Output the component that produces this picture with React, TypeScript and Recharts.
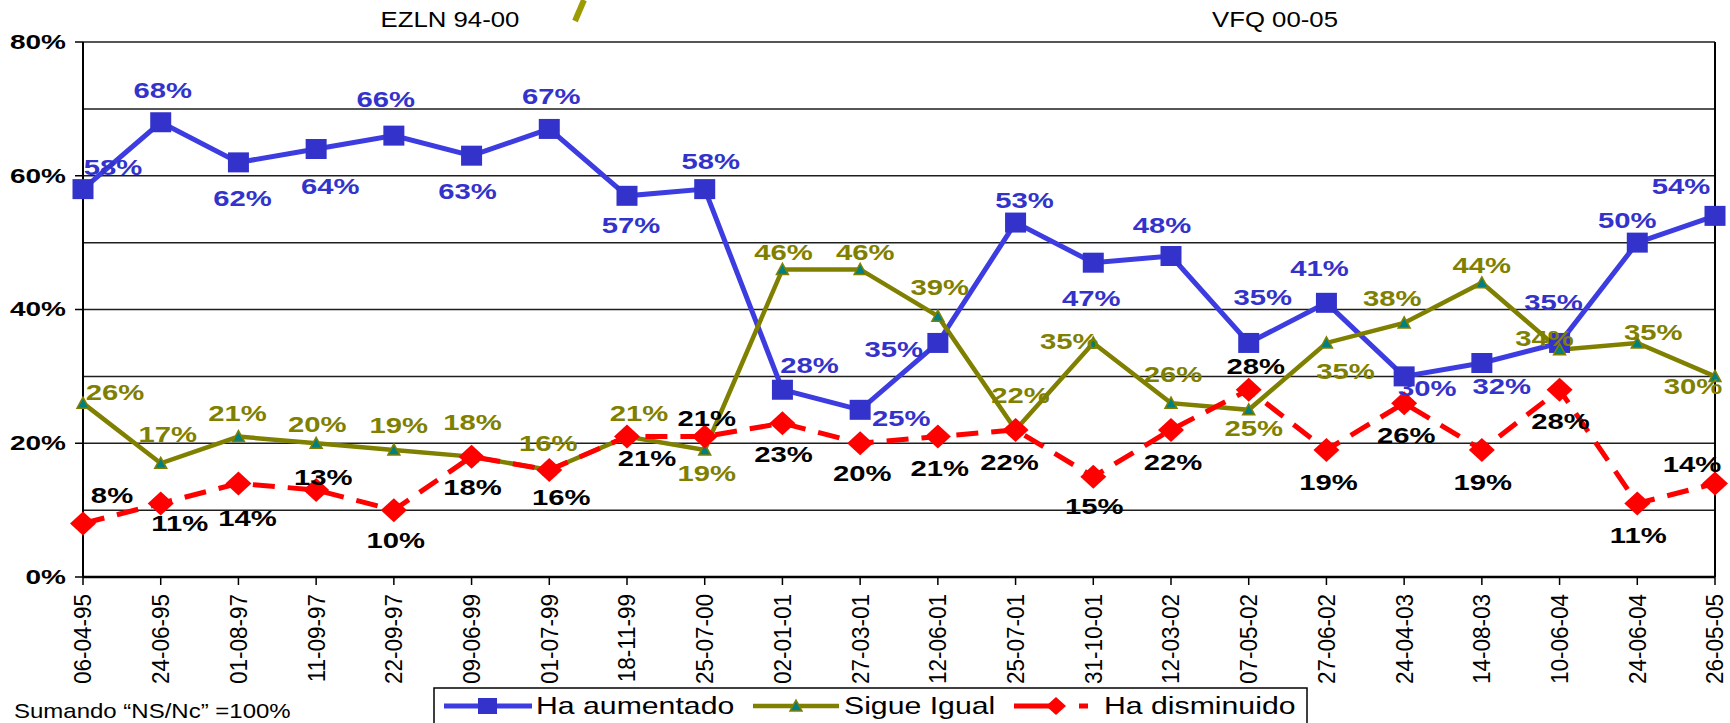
import React from 'react';
import {
  LineChart,
  Line,
  XAxis,
  YAxis,
  CartesianGrid,
  ReferenceLine,
  LabelList
} from 'recharts';

// survey dates
const DATES = [
  '06-04-95', '24-06-95', '01-08-97', '11-09-97', '22-09-97', '09-06-99', '01-07-99',
  '18-11-99', '25-07-00', '02-01-01', '27-03-01', '12-06-01', '25-07-01', '31-10-01',
  '12-03-02', '07-05-02', '27-06-02', '24-04-03', '14-08-03', '10-06-04', '24-06-04', '26-05-05'
];

// % per answer
const AUMENTADO = [58, 68, 62, 64, 66, 63, 67, 57, 58, 28, 25, 35, 53, 47, 48, 35, 41, 30, 32, 35, 50, 54];
const IGUAL = [26, 17, 21, 20, 19, 18, 16, 21, 19, 46, 46, 39, 22, 35, 26, 25, 35, 38, 44, 34, 35, 30];
const DISMINUIDO = [8, 11, 14, 13, 10, 18, 16, 21, 21, 23, 20, 21, 22, 15, 22, 28, 19, 26, 19, 28, 11, 14];

const Y_TICKS = [0, 10, 20, 30, 40, 50, 60, 70, 80];

// label placement (dx, dy from the point), as in the original sheet
const BLUE_OFF = [
  [30, -22], [2, -32], [4, 36], [14, 37], [-8, -36], [-4, 36], [2, -33], [4, 30], [6, -28],
  [27, -24], [41, 9], [-44, 6], [9, -22], [-2, 36], [-9, -31], [14, -46], [-7, -34],
  [23, 12], [20, 23], [-6, -41], [-10, -22], [-34, -30]
];
const OLIVE_OFF = [
  [32, -11], [7, -29], [-1, -23], [1, -19], [5, -25], [1, -34], [-1, -27], [12, -23], [2, 23],
  [1, -17], [5, -17], [2, -29], [5, -35], [-24, -2], [2, -29], [5, 19], [19, 28],
  [-12, -25], [0, -17], [-15, -11], [16, -11], [-22, 10]
];
const RED_OFF = [
  [29, -28], [19, 20], [9, 35], [7, -13], [2, 30], [1, 31], [12, 27], [20, 22], [2, -18],
  [1, 31], [2, 30], [2, 32], [-6, 32], [1, 30], [2, 32], [7, -23], [2, 32],
  [2, 32], [1, 32], [1, 32], [1, 32], [-23, -19]
];

const data = DATES.map((d, i) => ({
  date: d,
  aumentado: AUMENTADO[i],
  igual: IGUAL[i],
  disminuido: DISMINUIDO[i]
}));

const FONT = '"Liberation Sans", Arial, Helvetica, sans-serif';
const BLUE = '#3333cc';
const BLUE_LINE = '#3c3ce0';
const OLIVE = '#808000';
const TEAL = '#008080';
const RED = '#ff0000';

const StretchText = ({ x, y, sx = 1, children, ...rest }: any) => (
  <text transform={`translate(${x},${y}) scale(${sx},1)`} fontFamily={FONT} {...rest}>
    {children}
  </text>
);

const makeLabel = (offsets: number[][], color: string) => (props: any) => {
  const { index, value } = props;
  const px = props.viewBox?.x ?? props.x;
  const py = props.viewBox?.y ?? props.y;
  const [dx, dy] = offsets[index] || [0, -28];
  return (
    <StretchText
      key={`lbl-${index}`}
      x={px + dx}
      y={py + dy}
      sx={1.33}
      textAnchor="middle"
      dominantBaseline="central"
      fontSize={22}
      fontWeight="bold"
      fill={color}
    >
      {value}%
    </StretchText>
  );
};

const SquareDot = (props: any) => {
  const { cx, cy, index } = props;
  return <rect key={`sq-${index}`} x={cx - 10.5} y={cy - 10} width={21} height={20} fill={BLUE} />;
};

const TriangleDot = (props: any) => {
  const { cx, cy, index } = props;
  return (
    <polygon
      key={`tr-${index}`}
      points={`${cx},${cy - 6} ${cx - 6},${cy + 5} ${cx + 6},${cy + 5}`}
      fill={TEAL}
      stroke={OLIVE}
      strokeWidth={1.5}
    />
  );
};

const DiamondDot = (props: any) => {
  const { cx, cy, index } = props;
  return (
    <polygon
      key={`dm-${index}`}
      points={`${cx},${cy - 12} ${cx + 13},${cy} ${cx},${cy + 12} ${cx - 13},${cy}`}
      fill={RED}
    />
  );
};

const YTick = ({ x, y, payload }: any) => {
  if (payload.value % 20 !== 0) return <g />;
  return (
    <g>
      <line x1={x} x2={x + 8} y1={y} y2={y} stroke="#000" strokeWidth={1.5} />
      <StretchText
        x={x - 9}
        y={y}
        sx={1.4}
        textAnchor="end"
        dominantBaseline="central"
        fontSize={20}
        fontWeight="bold"
        fill="#000"
      >
        {payload.value}%
      </StretchText>
    </g>
  );
};

const XTick = ({ x, y, payload }: any) => (
  <text
    transform={`translate(${x},${y}) scale(1.1,1) rotate(-90)`}
    textAnchor="end"
    dominantBaseline="central"
    fontFamily={FONT}
    fontSize={22.5}
    fill="#000"
  >
    {payload.value}
  </text>
);

const Overlay = () => (
  <svg
    width={1730}
    height={723}
    style={{ position: 'absolute', left: 0, top: 0, pointerEvents: 'none' }}
  >
    {/* bit of the slide title that pokes into the picture */}
    <line x1={584} y1={0} x2={575} y2={21} stroke="#9c9c00" strokeWidth={6} />
    <StretchText x={450} y={27} sx={1.12} textAnchor="middle" fontSize={23} fill="#000">
      EZLN 94-00
    </StretchText>
    <StretchText x={1275} y={27} sx={1.12} textAnchor="middle" fontSize={23} fill="#000">
      VFQ 00-05
    </StretchText>
    <StretchText x={14} y={718} sx={1.2} fontSize={20} fill="#000">
      Sumando “NS/Nc” =100%
    </StretchText>

    <rect x={434} y={688} width={873} height={40} fill="#fff" stroke="#000" strokeWidth={1.5} />
    <line x1={444} x2={532} y1={706} y2={706} stroke={BLUE_LINE} strokeWidth={5} />
    <rect x={478} y={698} width={19} height={16} fill={BLUE} />
    <StretchText x={536} y={706} sx={1.26} dominantBaseline="central" fontSize={24} fill="#000">
      Ha aumentado
    </StretchText>
    <line x1={753} x2={839} y1={706} y2={706} stroke={OLIVE} strokeWidth={4.5} />
    <polygon points="796,700 790,711 802,711" fill={TEAL} stroke={OLIVE} strokeWidth={1.5} />
    <StretchText x={844} y={706} sx={1.26} dominantBaseline="central" fontSize={24} fill="#000">
      Sigue Igual
    </StretchText>
    <line x1={1014} x2={1050} y1={706} y2={706} stroke={RED} strokeWidth={5} />
    <line x1={1079} x2={1088} y1={706} y2={706} stroke={RED} strokeWidth={5} />
    <polygon points="1056,697 1066,706 1056,715 1046,706" fill={RED} />
    <StretchText x={1104} y={706} sx={1.26} dominantBaseline="central" fontSize={24} fill="#000">
      Ha disminuido
    </StretchText>
  </svg>
);

export default function App() {
  return (
    <div
      style={{
        position: 'absolute',
        left: 0,
        top: 0,
        width: 1730,
        height: 723,
        background: '#fff',
        overflow: 'hidden'
      }}
    >
      <LineChart
        width={1730}
        height={723}
        data={data}
        margin={{ top: 42, right: 15, bottom: 0, left: 0 }}
      >
        <CartesianGrid vertical={false} stroke="#1e1e1e" strokeWidth={1.5} />
        <XAxis
          dataKey="date"
          height={146}
          interval={0}
          tickSize={8}
          tickMargin={9}
          tick={<XTick />}
          tickLine={{ stroke: '#000', strokeWidth: 1.5 }}
          axisLine={{ stroke: '#000', strokeWidth: 2.5 }}
        />
        <YAxis
          width={83}
          domain={[0, 80]}
          ticks={Y_TICKS}
          interval={0}
          tickSize={8}
          tickMargin={0}
          tickLine={false}
          tick={<YTick />}
          axisLine={{ stroke: '#000', strokeWidth: 2 }}
        />
        <ReferenceLine x="26-05-05" stroke="#000" strokeWidth={2} />

        <Line
          dataKey="aumentado"
          stroke={BLUE_LINE}
          strokeWidth={5}
          dot={SquareDot}
          activeDot={false}
          isAnimationActive={false}
        >
          <LabelList dataKey="aumentado" content={makeLabel(BLUE_OFF, BLUE)} />
        </Line>
        <Line
          dataKey="igual"
          stroke={OLIVE}
          strokeWidth={4.5}
          dot={TriangleDot}
          activeDot={false}
          isAnimationActive={false}
        >
          <LabelList dataKey="igual" content={makeLabel(OLIVE_OFF, OLIVE)} />
        </Line>
        <Line
          dataKey="disminuido"
          stroke={RED}
          strokeWidth={5}
          strokeDasharray="22 13"
          dot={DiamondDot}
          activeDot={false}
          isAnimationActive={false}
        >
          <LabelList dataKey="disminuido" content={makeLabel(RED_OFF, '#000')} />
        </Line>
      </LineChart>
      <Overlay />
    </div>
  );
}
